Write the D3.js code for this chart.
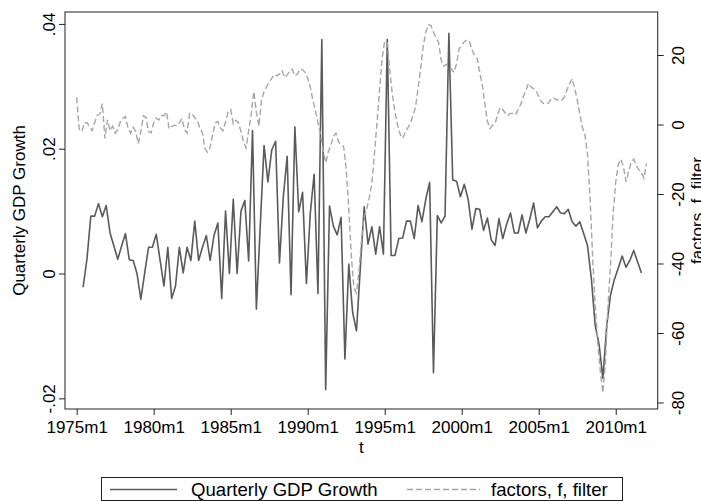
<!DOCTYPE html>
<html><head><meta charset="utf-8">
<script src="https://cdn.jsdelivr.net/npm/d3@7"></script>
<style>
body{margin:0;background:#fff}
text{font-family:"Liberation Sans",Arial,Helvetica,sans-serif;fill:#000}
</style>
</head><body>
<svg id="c" width="701" height="501"></svg>
<script>
// ---------------- data ----------------
const gdpStart = "1975m6";          // quarterly observations, every 3 months
const gdpStepMonths = 3;
const gdpValues = [
 -0.0022, 0.0023, 0.0092, 0.0092, 0.0112, 0.0091, 0.0109, 0.0065, 0.0044, 0.0023,
 0.0044, 0.0064, 0.0022, 0.0021, 0.0000, -0.0041, 0.0001, 0.0042, 0.0042, 0.0063,
 0.0021, -0.0020, 0.0042, -0.0040, -0.0020, 0.0042, 0.0001, 0.0042, 0.0021, 0.0084,
 0.0021, 0.0042, 0.0061, 0.0021, 0.0061, 0.0081, -0.0040, 0.0100, 0.0000, 0.0119,
 0.0000, 0.0100, 0.0117, 0.0020, 0.0229, -0.0057, 0.0075, 0.0205, 0.0147, 0.0198,
 0.0212, 0.0017, 0.0123, 0.0188, -0.0034, 0.0235, 0.0099, 0.0130, -0.0016, 0.0096,
 0.0159, -0.0032, 0.0375, -0.0186, 0.0108, 0.0076, 0.0062, 0.0090, -0.0137, 0.0015,
 -0.0062, -0.0092, 0.0009, 0.0107, 0.0047, 0.0075, 0.0031, 0.0075, 0.0031, 0.0375,
 0.0029, 0.0029, 0.0056, 0.0057, 0.0084, 0.0084, 0.0056, 0.0109, 0.0083, 0.0119,
 0.0146, -0.0159, 0.0093, 0.0081, 0.0092, 0.0385, 0.0150, 0.0148, 0.0123, 0.0143,
 0.0119, 0.0071, 0.0104, 0.0103, 0.0069, 0.0089, 0.0054, 0.0045, 0.0088, 0.0056,
 0.0079, 0.0097, 0.0065, 0.0065, 0.0094, 0.0065, 0.0087, 0.0113, 0.0073, 0.0084,
 0.0091, 0.0091, 0.0099, 0.0107, 0.0097, 0.0096, 0.0103, 0.0083, 0.0076, 0.0083,
 0.0064, 0.0045, -0.0008, -0.0083, -0.0113, -0.0168, -0.0083, -0.0034, -0.0009, 0.0009,
 0.0028, 0.0010, 0.0021, 0.0037, 0.0019, 0.0001
];
const factorStart = "1975m1";
const factorStepMonths = 2;
const factorValues = [
 7.8, -1.5, -2.0, 0.5, 0.5, -0.6, -1.8, 0.5, 2.6, 3.0,
 6.0, -4.0, 1.3, -1.8, -0.5, -2.5, -1.5, 0.8, 1.7, 2.3,
 -1.0, -2.5, -0.8, -2.0, -5.5, -2.0, 2.5, 2.0, -2.0, -2.4,
 0.5, 1.8, 1.3, 2.6, 2.5, 3.6, -1.2, -0.6, -0.2, -0.4,
 0.5, 1.7, -1.5, -2.5, 3.2, 3.0, 2.0, 1.0, -1.0, -2.5,
 -7.0, -8.0, -6.5, -2.8, 0.5, 0.8, -1.0, -1.8, 0.8, 3.5,
 4.3, 0.2, 1.2, 0.5, -2.0, -5.0, -6.8, -1.8, 3.0, 9.5,
 3.5, -0.5, 7.0, 9.5, 10.8, 12.2, 13.3, 14.4, 14.0, 14.5,
 15.5, 13.5, 14.2, 15.5, 15.9, 14.0, 14.5, 15.9, 15.8, 15.0,
 13.3, 10.8, 7.0, 4.0, 0.5, -2.8, -7.5, -11.0, -8.0, -6.0,
 -3.5, -2.5, -5.0, -5.8, -6.3, -13.0, -24.0, -38.0, -47.0, -48.5,
 -42.0, -33.0, -26.5, -24.3, -21.0, -17.0, -8.5, 0.5, 10.0, 19.0,
 24.0, 23.5, 15.5, 8.5, 3.5, 0.0, -2.8, -4.0, -2.2, -1.0,
 0.3, 2.5, 5.0, 10.5, 16.0, 22.5, 26.5, 28.7, 28.5, 26.5,
 25.0, 23.5, 18.5, 16.8, 17.3, 16.4, 16.0, 15.0, 17.5, 21.8,
 22.8, 23.8, 24.3, 24.0, 21.5, 19.8, 19.0, 15.0, 11.5, 6.0,
 1.0, -1.2, -0.2, 0.3, 2.8, 4.9, 4.3, 3.3, 2.6, 3.2,
 3.2, 2.8, 4.4, 5.8, 8.0, 9.8, 11.8, 10.8, 10.3, 9.6,
 8.2, 6.5, 6.0, 5.9, 6.4, 7.5, 7.6, 7.0, 7.3, 7.0,
 8.0, 10.0, 11.7, 13.2, 10.5, 7.0, 3.0, -0.8, -3.0, -8.5,
 -21.0, -38.0, -52.0, -63.0, -71.0, -77.2, -68.0, -52.0, -40.0, -25.5,
 -16.5, -11.5, -10.0, -12.2, -16.5, -13.5, -11.0, -10.0, -11.8, -13.0,
 -13.8, -15.5, -11.2
];
const xTickLabels = ["1975m1","1980m1","1985m1","1990m1","1995m1","2000m1","2005m1","2010m1"];
const leftTicks = [-0.02, 0, 0.02, 0.04];
const leftTickLabels = ["-.02", "0", ".02", ".04"];
const rightTicks = [-80, -60, -40, -20, 0, 20];
const rightTickLabels = ["-80", "-60", "-40", "-20", "0", "20"];
const seriesNames = ["Quarterly GDP Growth", "factors, f, filter"];
const xTitle = "t";

// ---------------- helpers ----------------
const tm = s => { const [y, m] = s.split("m").map(Number); return (y - 1960) * 12 + (m - 1); };
const gdp = gdpValues.map((v, i) => ({ t: tm(gdpStart) + i * gdpStepMonths, v }));
const fac = factorValues.map((v, i) => ({ t: tm(factorStart) + i * factorStepMonths, v }));

// ---------------- layout ----------------
const svg = d3.select("#c");
const L = 65, R = 657.7, T = 12, B = 409;
const FS = 17, LFS = 18.6;

const x = d3.scaleLinear().domain([170.9, 632.7]).range([L, R]);
const yL = d3.scaleLinear().domain([-0.02171, 0.04191]).range([B, T]);
const yR = d3.scaleLinear().domain([-81.87, 32.37]).range([B, T]);

svg.append("rect").attr("width", 701).attr("height", 501).attr("fill", "#fff");

// lines
svg.append("clipPath").attr("id", "pc").append("rect")
  .attr("x", L).attr("y", T).attr("width", R - L).attr("height", B - T);
const plot = svg.append("g").attr("clip-path", "url(#pc)");
plot.append("path").datum(gdp)
  .attr("d", d3.line().x(d => x(d.t)).y(d => yL(d.v)))
  .attr("fill", "none").attr("stroke", "#5a5a5a").attr("stroke-width", 1.6)
  .attr("stroke-linejoin", "round");
plot.append("path").datum(fac)
  .attr("d", d3.line().x(d => x(d.t)).y(d => yR(d.v)))
  .attr("fill", "none").attr("stroke", "#a6a6a6").attr("stroke-width", 1.4)
  .attr("stroke-dasharray", "6,3");

// frame
svg.append("rect").attr("x", L).attr("y", T).attr("width", R - L).attr("height", B - T)
  .attr("fill", "none").attr("stroke", "#222").attr("stroke-width", 1);

// axes
const styleAxis = g => { g.select(".domain").remove(); g.selectAll(".tick line").attr("stroke", "#222"); g.selectAll("text").style("font-size", FS + "px").attr("fill", "#000"); };

const gx = svg.append("g").attr("transform", `translate(0,${B})`)
  .call(d3.axisBottom(x).tickValues(xTickLabels.map(tm)).tickFormat((d, i) => xTickLabels[i]).tickSize(6))
  .call(styleAxis);
gx.selectAll("text").attr("y", 12);

const gl = svg.append("g").attr("transform", `translate(${L},0)`)
  .call(d3.axisLeft(yL).tickValues(leftTicks).tickFormat((d, i) => leftTickLabels[i]).tickSize(6))
  .call(styleAxis);
gl.selectAll("text").attr("x", null).attr("dy", null).attr("text-anchor", "middle")
  .attr("transform", "translate(-10.5,0) rotate(-90)");

const gr = svg.append("g").attr("transform", `translate(${R},0)`)
  .call(d3.axisRight(yR).tickValues(rightTicks).tickFormat((d, i) => rightTickLabels[i]).tickSize(6))
  .call(styleAxis);
gr.selectAll("text").attr("x", null).attr("dy", null).attr("text-anchor", "middle")
  .attr("transform", "translate(26.5,0) rotate(-90)");

// titles
const midY = (T + B) / 2;
svg.append("text").attr("transform", `translate(25,${midY}) rotate(-90)`)
  .attr("text-anchor", "middle").style("font-size", FS + "px").text(seriesNames[0]);
svg.append("text").attr("transform", `translate(703,${midY}) rotate(-90)`)
  .attr("text-anchor", "middle").style("font-size", FS + "px").text(seriesNames[1]);
svg.append("text").attr("x", (L + R) / 2).attr("y", 453)
  .attr("text-anchor", "middle").style("font-size", FS + "px").text(xTitle);

// legend
const lg = svg.append("g");
lg.append("rect").attr("x", 101.5).attr("y", 477.5).attr("width", 521).attr("height", 23)
  .attr("fill", "#fff").attr("stroke", "#222");
const ly = 489.5;
lg.append("line").attr("x1", 110).attr("x2", 177).attr("y1", ly).attr("y2", ly)
  .attr("stroke", "#5a5a5a").attr("stroke-width", 1.6);
lg.append("text").attr("x", 191).attr("y", ly + 6.5).style("font-size", LFS + "px").text(seriesNames[0]);
lg.append("line").attr("x1", 407).attr("x2", 480).attr("y1", ly).attr("y2", ly)
  .attr("stroke", "#a6a6a6").attr("stroke-width", 1.4).attr("stroke-dasharray", "6,3");
lg.append("text").attr("x", 491).attr("y", ly + 6.5).style("font-size", LFS + "px").text(seriesNames[1]);
</script>
</body></html>
